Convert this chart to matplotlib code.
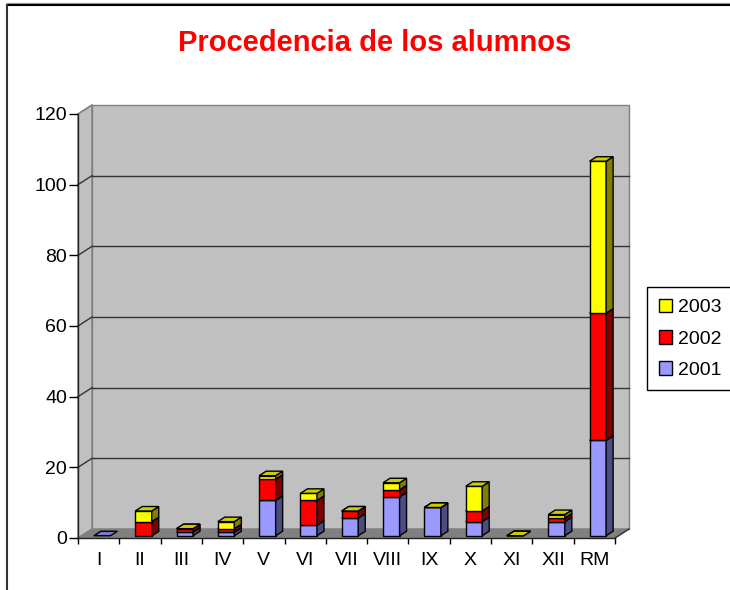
import matplotlib
matplotlib.use('Agg')
import matplotlib.pyplot as plt
import numpy as np
from matplotlib.patches import Polygon, Patch
from matplotlib.lines import Line2D

plt.rcParams['font.family'] = ['Liberation Sans', 'DejaVu Sans']

# ---------------- data ----------------
categories = ['I', 'II', 'III', 'IV', 'V', 'VI', 'VII', 'VIII', 'IX', 'X', 'XI', 'XII', 'RM']
series_names = ['2001', '2002', '2003']
v2001 = [0, 0, 1, 1, 10, 3, 5, 11, 8, 4, 0, 4, 27]
v2002 = [np.nan, 4, 1, 1, 6, 7, 2, 2, 0, 3, 0, 1, 36]
v2003 = [np.nan, 3, 0, 2, 1, 2, 0, 2, 0, 7, 0, 1, 43]
y_ticks = [0, 20, 40, 60, 80, 100, 120]
title = 'Procedencia de los alumnos'

# ---------------- styles ----------------
front_colors = ['#9999FF', '#FF0000', '#FFFF00']
side_colors = ['#4C4C80', '#800000', '#808000']
top_colors = ['#7A7ACC', '#CC0000', '#CCCC00']

W, H = 730, 590
fig = plt.figure(figsize=(W / 100, H / 100), dpi=100)
fig.patch.set_facecolor('white')

ncat = len(categories)
ymax = y_ticks[-1]
# pixel geometry of the plot area
left_px, right_front_px, front0_px, front_top_px = 78, 615, 538, 114
depth_dx_px, depth_dy_px = 14, 9
px_per_cat = (right_front_px - left_px) / ncat
px_per_val = (front0_px - front_top_px) / ymax
DX = depth_dx_px / px_per_cat
DY = depth_dy_px / px_per_val

ax_w = right_front_px + depth_dx_px - left_px
ax_h = front0_px - (front_top_px - depth_dy_px)
ax = fig.add_axes([left_px / W, (H - front0_px) / H, ax_w / W, ax_h / H])
ax.set_xlim(0, ncat + DX)
ax.set_ylim(0, ymax + DY)
ax.patch.set_visible(False)

wall_c = '#C0C0C0'
floor_c = '#808080'
edge_c = '#808080'

# walls
ax.add_patch(Polygon([(0, 0), (DX, DY), (DX, ymax + DY), (0, ymax)], closed=True,
                     fc=wall_c, ec=edge_c, lw=1, zorder=0.5, clip_on=False))
ax.add_patch(Polygon([(DX, DY), (ncat + DX, DY), (ncat + DX, ymax + DY), (DX, ymax + DY)],
                     closed=True, fc=wall_c, ec=edge_c, lw=1, zorder=0.5, clip_on=False))
ax.add_patch(Polygon([(0, 0), (ncat, 0), (ncat + DX, DY), (DX, DY)], closed=True,
                     fc=floor_c, ec=floor_c, lw=1, zorder=0.6, clip_on=False))

# gridlines
for v in y_ticks[1:-1]:
    ax.plot([DX, ncat + DX], [v + DY, v + DY], color='#333333', lw=1, zorder=1, clip_on=False)
    ax.plot([0, DX], [v, v + DY], color='#333333', lw=1, zorder=1, clip_on=False)
ax.plot([0, DX], [ymax, ymax + DY], color='#808080', lw=1, zorder=1, clip_on=False)
ax.plot([ncat, ncat + DX], [0, DY], color='#333333', lw=1, zorder=1, clip_on=False)

# bars
series = [v2001, v2002, v2003]
w = 0.4
bdx, bdy = 0.5 * DX, 0.5 * DY
z = 3
for i in range(ncat):
    x0 = i + 0.5 - w / 2 + 0.25 * DX
    cum = 0.25 * DY
    for s in range(3):
        v = series[s][i]
        if v is None or np.isnan(v):
            continue
        y0, y1 = cum, cum + v
        kw = dict(closed=True, ec='black', lw=1, joinstyle='miter', clip_on=False)
        if v > 0:
            ax.add_patch(Polygon([(x0, y0), (x0 + w, y0), (x0 + w, y1), (x0, y1)],
                                 fc=front_colors[s], zorder=z, **kw))
            ax.add_patch(Polygon([(x0 + w, y0), (x0 + w + bdx, y0 + bdy),
                                  (x0 + w + bdx, y1 + bdy), (x0 + w, y1)],
                                 fc=side_colors[s], zorder=z, **kw))
        ax.add_patch(Polygon([(x0, y1), (x0 + w, y1), (x0 + w + bdx, y1 + bdy), (x0 + bdx, y1 + bdy)],
                             fc=top_colors[s], zorder=z + 0.1, **kw))
        z += 0.2
        cum = y1

# axes
for sp in ['top', 'right']:
    ax.spines[sp].set_visible(False)
ax.spines['left'].set_bounds(0, ymax)
ax.spines['bottom'].set_bounds(0, ncat)
for sp in ['left', 'bottom']:
    ax.spines[sp].set_color('#222222')
    ax.spines[sp].set_linewidth(1)
    ax.spines[sp].set_zorder(2)

ax.set_yticks(y_ticks)
ax.set_yticklabels([str(t) for t in y_ticks])
ax.tick_params(axis='y', length=6.5, width=1, pad=1.5, labelsize=14, color='black')
ax.set_xticks(np.arange(ncat + 1))
ax.set_xticklabels([''] * (ncat + 1))
ax.set_xticks(np.arange(ncat) + 0.5, minor=True)
ax.set_xticklabels(categories, minor=True)
ax.tick_params(axis='x', which='major', length=4.5, width=1, color='black')
ax.tick_params(axis='x', which='minor', length=0, pad=10, labelsize=14)

# title
fig.text(375 / W, 1 - 43 / H, title, ha='center', va='center', fontsize=21,
         fontweight='bold', color='#FF0000')

# legend
handles = [Patch(fc=front_colors[s], ec='black', lw=1, label=series_names[s]) for s in [2, 1, 0]]
leg = ax.legend(handles=handles, loc='upper left', bbox_to_anchor=(647 / W, 1 - 287 / H),
                bbox_transform=fig.transFigure, fontsize=14, frameon=True, fancybox=False,
                edgecolor='black', framealpha=1, borderpad=0.6, labelspacing=0.7,
                handlelength=0.7, handleheight=0.7, handletextpad=0.3, borderaxespad=0)
leg.get_frame().set_linewidth(1)
leg._legend_box.sep = 0

# outer border (chart area frame)
fig.add_artist(Line2D([6.5 / W, 1], [1 - 3 / H, 1 - 3 / H], transform=fig.transFigure,
                      color='#A0A0A0', lw=1))
fig.add_artist(Line2D([6.5 / W, 1], [1 - 4.5 / H, 1 - 4.5 / H], transform=fig.transFigure,
                      color='black', lw=1.5))
fig.add_artist(Line2D([6.5 / W, 6.5 / W], [0, 1 - 4.5 / H], transform=fig.transFigure,
                      color='#333333', lw=1.5))

fig.savefig('out.png', dpi=100)
